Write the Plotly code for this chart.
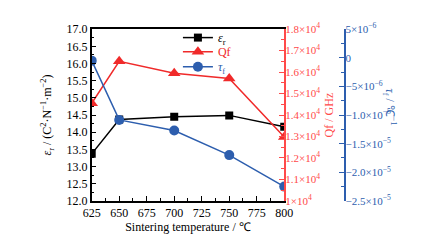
import plotly.graph_objects as go

temps = [625, 650, 700, 750, 800]
eps_r = [13.37, 14.37, 14.45, 14.49, 14.16]
qf = [14550, 16500, 15950, 15700, 12980]
tau_f = [-0.5e-6, -10.85e-6, -12.7e-6, -17.0e-6, -22.5e-6]

x_ticks = [625, 650, 675, 700, 725, 750, 775, 800]
y1_ticks = [12.0, 12.5, 13.0, 13.5, 14.0, 14.5, 15.0, 15.5, 16.0, 16.5, 17.0]
y2_ticks = [10000, 11000, 12000, 13000, 14000, 15000, 16000, 17000, 18000]
y2_text = ["1×10<sup>4</sup>", "1.1×10<sup>4</sup>", "1.2×10<sup>4</sup>", "1.3×10<sup>4</sup>",
           "1.4×10<sup>4</sup>", "1.5×10<sup>4</sup>", "1.6×10<sup>4</sup>", "1.7×10<sup>4</sup>",
           "1.8×10<sup>4</sup>"]
y3_ticks = [5e-6, 0, -5e-6, -1.0e-5, -1.5e-5, -2.0e-5, -2.5e-5]
y3_text = ["5×10<sup>−6</sup>", "0", "−5×10<sup>−6</sup>", "−1.0×10<sup>−5</sup>",
           "−1.5×10<sup>−5</sup>", "−2.0×10<sup>−5</sup>", "−2.5×10<sup>−5</sup>"]

BLACK = "#000000"
RED = "#f02a2a"
RED_AX = "#ff4a4a"
BLUE = "#2d5eae"
FONT = "Liberation Serif"

fig = go.Figure()
fig.add_trace(go.Scatter(x=temps, y=eps_r, mode="lines+markers", name="<i>ε</i><sub>r</sub>",
                         line=dict(color=BLACK, width=1.5), legend="legend",
                         marker=dict(symbol="square", size=8, color=BLACK)))
fig.add_trace(go.Scatter(x=temps, y=qf, mode="lines+markers", yaxis="y2",
                         name="<span style='color:%s'>Qf</span>" % RED, legend="legend2",
                         line=dict(color=RED, width=1.5),
                         marker=dict(symbol="triangle-up", size=11, color=RED)))
fig.add_trace(go.Scatter(x=temps, y=tau_f, mode="lines+markers", yaxis="y3",
                         name="<span style='color:%s'><i>τ</i><sub>f</sub></span>" % BLUE,
                         legend="legend3",
                         line=dict(color=BLUE, width=1.5),
                         marker=dict(symbol="circle", size=10, color=BLUE)))

W, H = 427, 245
xd = [78 / W, 279 / W]
yd = [1 - 197 / H, 1 - 14 / H]


def leg(ypix):
    return dict(x=168 / W, y=1 - ypix / H, xanchor="left", yanchor="middle",
                bgcolor="rgba(0,0,0,0)", font=dict(family=FONT, size=12),
                itemwidth=30, tracegroupgap=0)


fig.update_layout(
    width=W, height=H,
    margin=dict(l=0, r=0, t=0, b=0),
    paper_bgcolor="white", plot_bgcolor="white",
    font=dict(family=FONT, size=12, color=BLACK),
    showlegend=True,
    legend=leg(23), legend2=leg(38), legend3=leg(54),
    xaxis=dict(domain=xd, range=[625, 800], tickvals=x_ticks, ticks="inside", ticklen=5,
               tickcolor=BLACK, showline=True, linecolor=BLACK, linewidth=1.5, mirror=True,
               showgrid=False, zeroline=False, tickfont=dict(size=12),
               minor=dict(ticks="inside", ticklen=3, dtick=12.5, tick0=625, tickcolor=BLACK, showgrid=False),
               title=dict(text="Sintering temperature / ℃", font=dict(size=12), standoff=2)),
    yaxis=dict(domain=yd, range=[12, 17], tickvals=y1_ticks, tickformat=".1f", ticks="inside",
               ticklen=5, tickcolor=BLACK, showline=True, linecolor=BLACK, linewidth=1.5,
               showgrid=False, zeroline=False, tickfont=dict(size=12),
               minor=dict(ticks="inside", ticklen=3, dtick=0.25, tick0=12, tickcolor=BLACK, showgrid=False),
               title=dict(text="<i>ε</i><sub>r</sub> / (C<sup>2</sup>·N<sup>−1</sup>·m<sup>−2</sup>)",
                          font=dict(size=12), standoff=12)),
    yaxis2=dict(overlaying="y", side="right", anchor="x", range=[10000, 18000],
                tickvals=y2_ticks, ticktext=y2_text, ticks="inside", ticklen=5,
                tickcolor=RED_AX, showline=True, linecolor=RED_AX, linewidth=1.5,
                showgrid=False, zeroline=False, tickfont=dict(size=11, color=RED_AX),
                ticklabelstandoff=-3,
                minor=dict(ticks="inside", ticklen=3, dtick=500, tick0=10000, tickcolor=RED_AX, showgrid=False),
                title=dict(text="Qf / GHz", font=dict(size=12, color=RED_AX), standoff=5)),
    yaxis3=dict(overlaying="y", side="right", anchor="free", position=342 / W,
                range=[-2.5e-5, 5e-6], tickvals=y3_ticks, ticktext=y3_text, ticks="inside",
                ticklen=5, tickcolor=BLUE, showline=True, linecolor=BLUE, linewidth=1.5,
                showgrid=False, zeroline=False, tickfont=dict(size=11, color=BLUE),
                ticklabelstandoff=-2,
                minor=dict(ticks="inside", ticklen=3, dtick=2.5e-6, tick0=-2.5e-5, tickcolor=BLUE, showgrid=False)),
    annotations=[dict(text="<i>τ</i><sub>f</sub> / ℃<sup>−1</sup>", x=400 / W, y=1 - 97 / H,
                      xref="paper", yref="paper", showarrow=False, textangle=90,
                      font=dict(family=FONT, size=12, color=BLUE))],
)

fig.write_html("out.html")
